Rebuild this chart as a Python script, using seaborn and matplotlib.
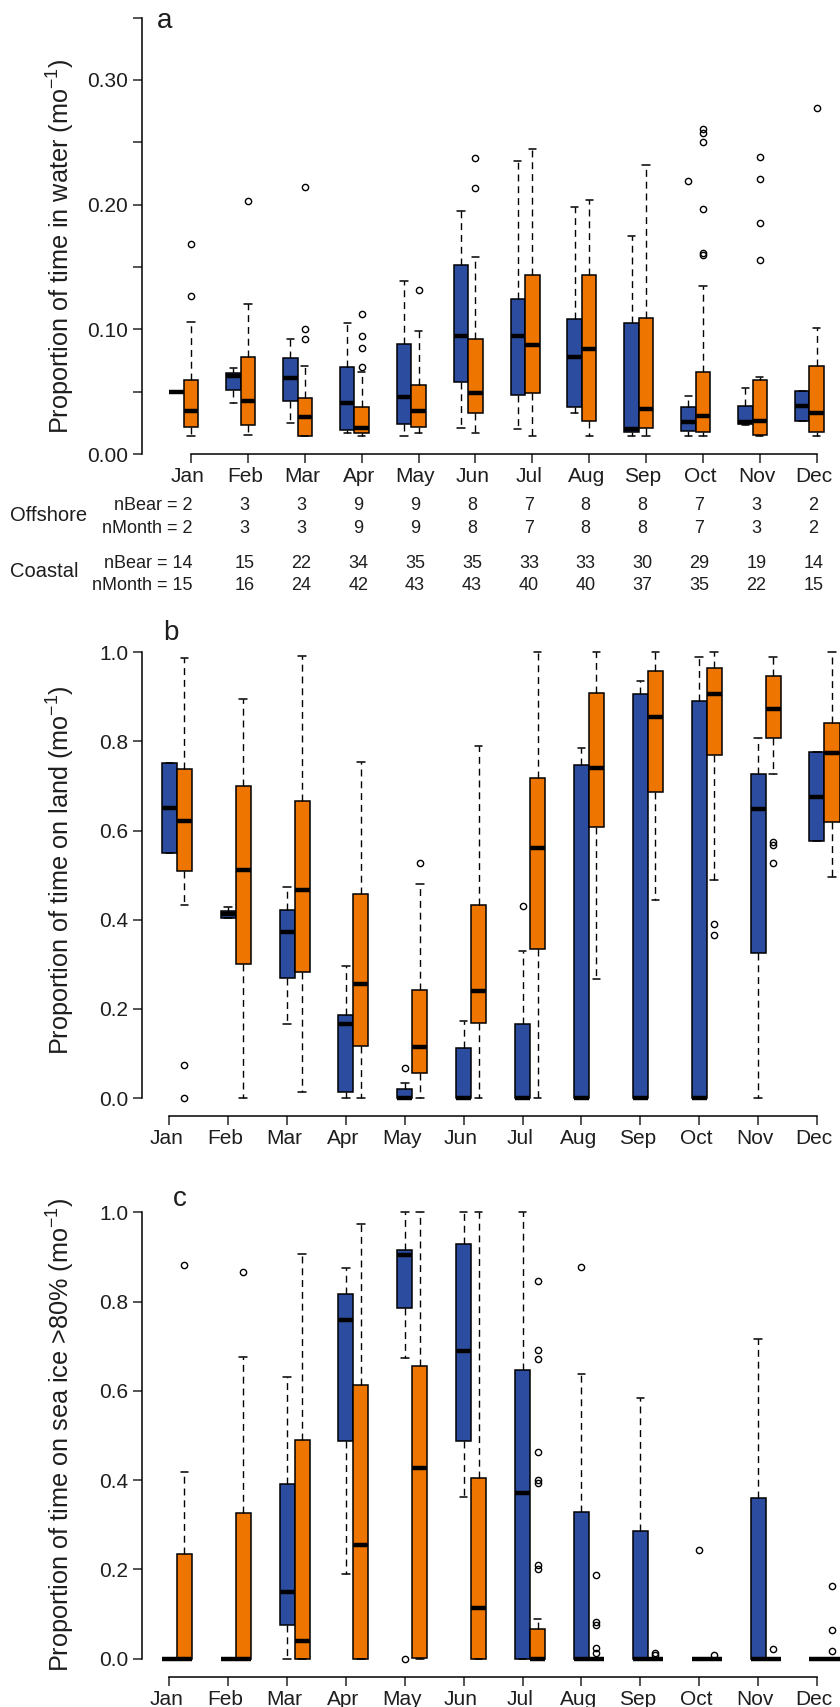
import matplotlib
matplotlib.use("Agg")

import numpy as np
import seaborn as sns
import matplotlib.pyplot as plt
from matplotlib.transforms import blended_transform_factory, ScaledTranslation


#%%
# Values: box stats per month (q1, median, q3, whisker low/high, outliers)
months = ["Jan", "Feb", "Mar", "Apr", "May", "Jun", "Jul", "Aug", "Sep", "Oct", "Nov", "Dec"]

# a - proportion of time in water
water_off_q1 = [.050, .0513, .0428, .0193, .0241, .058, .0476, .0374, .0174, .0187, .0241, .0265]
water_off_med = [.050, .0626, .0612, .0412, .046, .0947, .0949, .0775, .0201, .0257, .0257, .0388]
water_off_q3 = [.050, .0652, .0767, .070, .0882, .1513, .1241, .108, .1048, .0374, .0388, .0508]
water_off_lo = [.050, .0406, .0251, .0166, .0144, .0206, .0201, .0326, .0144, .0144, .0235, .0265]
water_off_hi = [.050, .069, .0925, .1053, .1388, .1952, .2348, .1984, .1749, .0465, .0527, .0508]
water_off_out = [[], [], [], [], [], [], [], [], [], [.219], [], []]

water_coa_q1 = [.0214, .0233, .0147, .0166, .0217, .0326, .0487, .0265, .0206, .0174, .0152, .0174]
water_coa_med = [.0347, .0428, .0294, .0211, .0342, .0487, .0872, .084, .0358, .0307, .0262, .0331]
water_coa_q3 = [.0594, .0781, .0447, .0374, .0553, .0922, .1433, .1433, .1094, .0655, .0596, .0708]
water_coa_lo = [.0144, .0155, .0144, .0144, .0166, .0166, .0144, .0144, .0144, .0144, .0144, .0144]
water_coa_hi = [.1061, .1203, .0708, .066, .0987, .158, .2444, .2037, .232, .1348, .0615, .1013]
water_coa_out = [[.1682, .127], [.2029], [.214, .1003, .092], [.112, .0946, .0853, .070], [.1315],
                 [.2377, .2131], [], [], [], [.2604, .2578, .2505, .1963, .1615, .1596],
                 [.2385, .2208, .1855, .1556], [.2773]]

# b - proportion of time on land
land_off_q1 = [.5505, .4046, .2686, .0142, 0, 0, 0, 0, 0, 0, .3246, .5766]
land_off_med = [.6514, .4121, .3717, .166, 0, 0, 0, 0, 0, 0, .6491, .676]
land_off_q3 = [.751, .4203, .4218, .1862, .0195, .1115, .1653, .7479, .9065, .8915, .7277, .7763]
land_off_lo = [.5505, .4046, .1668, 0, 0, 0, 0, 0, 0, 0, 0, .5766]
land_off_hi = [.751, .4278, .4727, .2962, .0344, .1728, .3298, .7853, .9349, .9902, .8077, .7763]
land_off_out = [[], [], [], [], [.0666], [], [.4308], [], [], [], [], []]

land_coa_q1 = [.5093, .30, .282, .1174, .0553, .1675, .3343, .608, .6859, .7703, .8084, .6185]
land_coa_med = [.6208, .5116, .4667, .2551, .1151, .2408, .5602, .7404, .8556, .9065, .8735, .7748]
land_coa_q3 = [.7389, .70, .6664, .4577, .2423, .433, .7173, .9087, .958, .9641, .9468, .8407]
land_coa_lo = [.433, 0, .0128, 0, 0, 0, 0, .2663, .4442, .4891, .7277, .4966]
land_coa_hi = [.9865, .8952, .9917, .7539, .4794, .7906, 1.0, 1.0, 1.0, 1.0, .9902, 1.0]
land_coa_out = [[.074, 0.0], [], [], [], [.5266], [], [], [], [], [.3897, .3657],
                [.5751, .5677, .5266], []]

# c - proportion of time on sea ice >80%
ice_off_q1 = [0, 0, .0746, .4883, .7866, .4883, 0, 0, 0, 0, 0, 0]
ice_off_med = [0, 0, .150, .7589, .9046, .6886, .3712, 0, 0, 0, 0, 0]
ice_off_q3 = [0, 0, .3911, .8179, .915, .9289, .6461, .3287, .2862, 0, .359, 0]
ice_off_lo = [0, 0, 0, .189, .673, .3625, 0, 0, 0, 0, 0, 0]
ice_off_hi = [0, 0, .6305, .8742, 1.0, 1.0, 1.0, .6375, .5837, 0, .7155, 0]
ice_off_out = [[], [], [], [], [0.0], [], [], [.8777], [], [.2428], [], []]

ice_coa_q1 = [0, 0, 0, 0, .0017, 0, 0, 0, 0, 0, 0, 0]
ice_coa_med = [0, 0, .039, .2541, .4267, .1127, 0, 0, 0, 0, 0, 0]
ice_coa_q3 = [.235, .327, .4909, .6123, .6566, .405, .0659, 0, 0, 0, 0, 0]
ice_coa_lo = [0, 0, 0, 0, 0, 0, 0, 0, 0, 0, 0, 0]
ice_coa_hi = [.417, .6765, .9072, .974, 1.0, 1.0, .0893, 0, 0, 0, 0, 0]
ice_coa_out = [[.883], [.8656], [], [], [], [],
               [.8456, .6921, .6722, .464, .3998, .3929, .2108, .2003],
               [.1865, .0824, .0746, .0243, .013], [.013, .009], [.009], [.0217],
               [.162, .0633, .0173]]

# sample sizes under panel a
off_nbear = [2, 3, 3, 9, 9, 8, 7, 8, 8, 7, 3, 2]
off_nmonth = [2, 3, 3, 9, 9, 8, 7, 8, 8, 7, 3, 2]
coa_nbear = [14, 15, 22, 34, 35, 35, 33, 33, 30, 29, 19, 14]
coa_nmonth = [15, 16, 24, 42, 43, 43, 40, 40, 37, 35, 22, 15]


#%%
sns.set_style("ticks")
plt.rcParams["font.family"] = ["Liberation Sans", "DejaVu Sans"]
plt.rcParams["mathtext.fontset"] = "custom"
plt.rcParams["mathtext.rm"] = "Liberation Sans"
plt.rcParams["mathtext.it"] = "Liberation Sans:italic"
plt.rcParams["mathtext.bf"] = "Liberation Sans:bold"

BLUE = "#2b4c9f"
ORANGE = "#ee7600"
TXT = "#1e1e1e"
BOX_W = 0.255
W, H = 840, 1707

fig = plt.figure(figsize=(W / 100, H / 100), dpi=100, facecolor="white")


def px_axes(left, top, right, bottom):
    return fig.add_axes([left / W, 1 - bottom / H, (right - left) / W, (bottom - top) / H])


def draw_group(ax, q1, med, q3, lo, hi, out, positions, color):
    stats = [dict(q1=a, med=b, q3=c, whislo=d, whishi=e, fliers=f)
             for a, b, c, d, e, f in zip(q1, med, q3, lo, hi, out)]
    ax.bxp(stats, positions=positions, widths=BOX_W, capwidths=BOX_W * 0.5,
           patch_artist=True, showfliers=True, manage_ticks=False,
           boxprops=dict(facecolor=color, edgecolor="black", linewidth=1.1),
           medianprops=dict(color="black", linewidth=3.2, solid_capstyle="butt"),
           whiskerprops=dict(color="black", linewidth=1.0, linestyle=(0, (5, 3.5))),
           capprops=dict(color="black", linewidth=1.1),
           flierprops=dict(marker="o", markerfacecolor="none", markeredgecolor="black",
                           markersize=4.5, markeredgewidth=1.0))


def style_axes(ax, ytop, yticks, ylabels):
    sns.despine(ax=ax)
    ax.spines["left"].set_bounds(0, ytop)
    ax.spines["bottom"].set_bounds(0, 11)
    for s in ("left", "bottom"):
        ax.spines[s].set_linewidth(1.1)
        ax.spines[s].set_color("black")
    ax.set_yticks(yticks)
    ax.set_yticklabels(ylabels)
    ax.set_xticks(np.arange(len(months)))
    ax.set_xticklabels(months)
    ax.tick_params(axis="y", length=6.2, width=1.1, pad=3.4, labelsize=15, labelcolor=TXT)
    ax.tick_params(axis="x", length=6.7, width=1.1, pad=2.5, labelsize=15, labelcolor=TXT)
    shift = ScaledTranslation(-0.03, 0, fig.dpi_scale_trans)
    for lab in ax.get_xticklabels():
        lab.set_transform(lab.get_transform() + shift)
    ax.set_facecolor("none")


x = np.arange(len(months))

#%% Panel a
ax_a = px_axes(141.5, 5, 840, 454)
draw_group(ax_a, water_off_q1, water_off_med, water_off_q3, water_off_lo, water_off_hi,
           water_off_out, x - BOX_W, BLUE)
draw_group(ax_a, water_coa_q1, water_coa_med, water_coa_q3, water_coa_lo, water_coa_hi,
           water_coa_out, x, ORANGE)
ax_a.set_xlim((141.5 - 191) / 56.88, (840 - 191) / 56.88)
ax_a.set_ylim(0, (454 - 5) / 1246.7)
a_ticks = np.round(np.arange(0, 0.351, 0.05), 2)
style_axes(ax_a, 0.35, a_ticks, ["%.2f" % t if i % 2 == 0 else "" for i, t in enumerate(a_ticks)])

#%% Panel b
ax_b = px_axes(141.5, 638, 840, 1116)
draw_group(ax_b, land_off_q1, land_off_med, land_off_q3, land_off_lo, land_off_hi,
           land_off_out, x, BLUE)
draw_group(ax_b, land_coa_q1, land_coa_med, land_coa_q3, land_coa_lo, land_coa_hi,
           land_coa_out, x + BOX_W, ORANGE)
ax_b.set_xlim((141.5 - 169.3) / 58.88, (840 - 169.3) / 58.88)
ax_b.set_ylim(-(1116 - 1098) / 445.7, (1098 - 638) / 445.7)
bc_ticks = np.round(np.arange(0, 1.01, 0.2), 1)
style_axes(ax_b, 1.0, bc_ticks, ["%.1f" % t for t in bc_ticks])

#%% Panel c
ax_c = px_axes(141.5, 1198, 840, 1676.8)
draw_group(ax_c, ice_off_q1, ice_off_med, ice_off_q3, ice_off_lo, ice_off_hi,
           ice_off_out, x, BLUE)
draw_group(ax_c, ice_coa_q1, ice_coa_med, ice_coa_q3, ice_coa_lo, ice_coa_hi,
           ice_coa_out, x + BOX_W, ORANGE)
ax_c.set_xlim((141.5 - 169.3) / 58.88, (840 - 169.3) / 58.88)
ax_c.set_ylim(-(1676.8 - 1658.6) / 446.3, (1658.6 - 1198) / 446.3)
style_axes(ax_c, 1.0, bc_ticks, ["%.1f" % t for t in bc_ticks])

#%% Labels
def fy(py):
    return 1 - py / H


ylab_kw = dict(rotation=90, ha="center", va="center", fontsize=18.2, color=TXT)
fig.text(61 / W, fy(246), "Proportion of time in water (mo$^{-1}$)", **ylab_kw)
fig.text(61 / W, fy(870), "Proportion of time on land (mo$^{-1}$)", **ylab_kw)
fig.text(61 / W, fy(1435), "Proportion of time on sea ice >80% (mo$^{-1}$)", **ylab_kw)

letter_kw = dict(fontsize=20, color=TXT, ha="left", va="baseline")
fig.text(157 / W, fy(28), "a", **letter_kw)
fig.text(163 / W, fy(640), "b", **letter_kw)
fig.text(173 / W, fy(1206), "c", **letter_kw)

#%% Sample size table under panel a
tr = blended_transform_factory(ax_a.transData, fig.transFigure)
rows = [("nBear", off_nbear, 505), ("nMonth", off_nmonth, 528.3),
        ("nBear", coa_nbear, 563.3), ("nMonth", coa_nmonth, 585.7)]
for name, counts, py in rows:
    for i, n in enumerate(counts):
        if i == 0:
            ax_a.text(i + 0.03, fy(py), "%s = %d" % (name, n), transform=tr, ha="right",
                      va="center", fontsize=13, color=TXT)
        else:
            ax_a.text(i - 0.06, fy(py), "%d" % n, transform=tr, ha="center",
                      va="center", fontsize=13, color=TXT)
fig.text(10 / W, fy(515.7), "Offshore", ha="left", va="center", fontsize=14.5, color=TXT)
fig.text(10 / W, fy(571.7), "Coastal", ha="left", va="center", fontsize=14.5, color=TXT)

fig.savefig("out.png", dpi=100, facecolor="white")
